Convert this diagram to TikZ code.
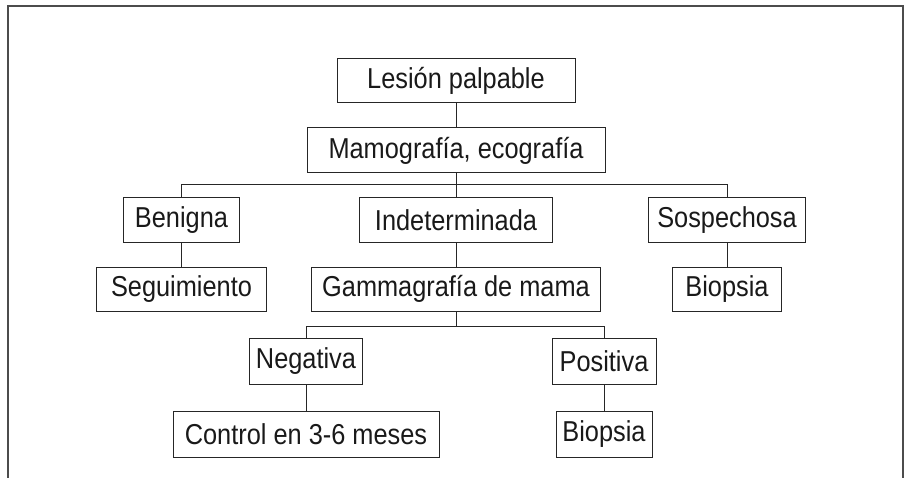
\documentclass[tikz,border=0pt]{standalone}
\usepackage{fontspec}
\setmainfont[FakeStretch=0.88]{Liberation Sans}
\begin{document}
\begin{tikzpicture}[x=1pt,y=-1pt,
  box/.style={draw=black!85,line width=1pt,rectangle,inner sep=0pt,minimum height=44pt,
    font=\fontsize{28.8}{34}\selectfont,text=black!90},
  link/.style={draw=black!85,line width=1pt}]
\useasboundingbox (0,0) rectangle (909,478);
\draw[black!70,line width=2pt] (7.5,479) -- (7.5,6) -- (903,6) -- (903,479);
\node[box,minimum width=238pt] (lesion) at (456,81) {Lesión palpable};
\node[box,minimum width=298pt,minimum height=45pt] (mamo) at (456,150.5) {Mamografía, ecografía};
\node[box,minimum width=116pt] (benigna) at (181.5,220) {Benigna};
\node[box,minimum width=193pt] (indet) at (456,220) {Indeterminada};
\node[box,minimum width=157pt] (sosp) at (727,220) {Sospechosa};
\node[box,minimum width=170pt] (seg) at (181.5,289) {Seguimiento};
\node[box,minimum width=289pt] (gamma) at (456,289) {Gammagrafía de mama};
\node[box,minimum width=109pt] (biop1) at (727,289) {Biopsia};
\node[box,minimum width=113pt,minimum height=46pt] (neg) at (306,361) {Negativa};
\node[box,minimum width=104pt,minimum height=46pt] (pos) at (604,361) {Positiva};
\node[box,minimum width=266pt,minimum height=46pt] (control) at (306,434) {Control en 3-6 meses};
\node[box,minimum width=96pt,minimum height=46pt] (biop2) at (604,434) {Biopsia};
\coordinate (bus1) at (456,184.5);
\coordinate (bus2) at (456,326.5);
\draw[link] (lesion) -- (mamo);
\draw[link] (mamo.south) -- (bus1);
\draw[link] (benigna.north) |- (bus1) -| (sosp.north);
\draw[link] (bus1) -- (indet.north);
\draw[link] (benigna) -- (seg);
\draw[link] (indet) -- (gamma);
\draw[link] (sosp) -- (biop1);
\draw[link] (gamma.south) -- (bus2);
\draw[link] (neg.north) |- (bus2) -| (pos.north);
\draw[link] (neg) -- (control);
\draw[link] (pos) -- (biop2);
\end{tikzpicture}
\end{document}
